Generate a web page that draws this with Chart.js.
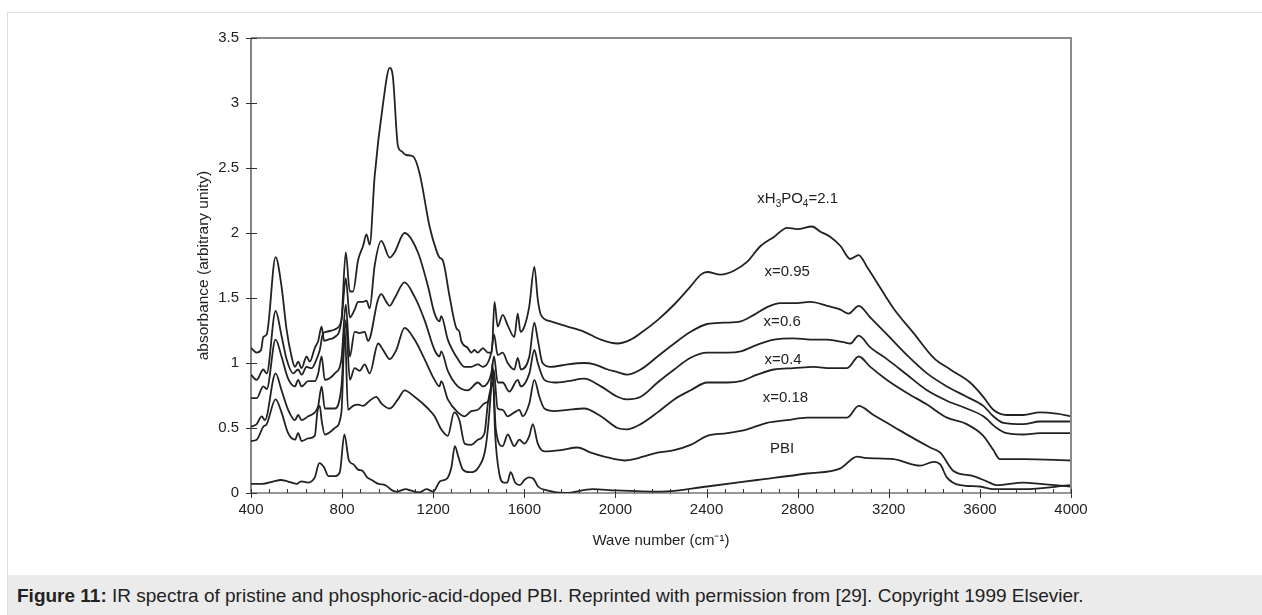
<!DOCTYPE html>
<html>
<head>
<meta charset="utf-8">
<script src="https://cdn.jsdelivr.net/npm/chart.js@4.4.1/dist/chart.umd.min.js"></script>
<style>
  body { margin: 0; background: #fff; font-family: Arial, "Liberation Sans", sans-serif; }
  #frame { position: absolute; left: 7px; top: 12px; width: 1262px; height: 610px; border-top: 1px solid #ddd; border-left: 1px solid #ddd; }
  #chart { position: absolute; left: 0; top: 0; }
  #caption { position: absolute; left: 8px; top: 575px; width: 1254px; height: 40px; background: #ebebeb;
             font-size: 19px; color: #222; line-height: 42px; padding-left: 9px; box-sizing: border-box; white-space: nowrap; }
</style>
</head>
<body>
<div id="frame"></div>
<canvas id="chart" width="1262" height="570"></canvas>
<div id="caption"><b>Figure 11:</b> IR spectra of pristine and phosphoric-acid-doped PBI. Reprinted with permission from [29]. Copyright 1999 Elsevier.</div>
<script>
// ── Data ────────────────────────────────────────────────────
const wn21 = [400,425,444,454,469,508,534,556,578,593,607,622,644,658,680,695,710,721,739,768,797,816,834,848,870,892,907,921,943,980,1009,1023,1045,1060,1082,1111,1140,1184,1213,1228,1242,1272,1301,1315,1323,1352,1367,1381,1396,1418,1440,1457,1469,1483,1505,1527,1556,1571,1583,1600,1622,1644,1659,1673,1717,1790,1863,1936,2009,2067,2111,2185,2258,2330,2375,2403,2462,2520,2579,2637,2696,2754,2798,2863,2900,2944,2988,3031,3068,3104,3148,3221,3309,3397,3470,3557,3615,3659,3717,3790,3864,3937,4000];
const ab21 = [1.115,1.08,1.10,1.20,1.22,1.815,1.59,1.26,1.05,0.97,1.01,0.96,1.05,1.01,1.115,1.17,1.28,1.17,1.18,1.20,1.33,1.85,1.55,1.55,1.79,1.90,1.99,1.91,2.44,3.0,3.27,3.2,2.67,2.63,2.60,2.59,2.46,2.05,1.87,1.81,1.79,1.51,1.27,1.24,1.17,1.115,1.08,1.10,1.08,1.115,1.08,1.08,1.47,1.28,1.37,1.29,1.20,1.38,1.24,1.28,1.44,1.74,1.49,1.37,1.32,1.28,1.24,1.18,1.15,1.18,1.23,1.33,1.45,1.59,1.68,1.70,1.68,1.71,1.78,1.90,1.97,2.04,2.03,2.05,2.01,1.97,1.90,1.80,1.83,1.74,1.62,1.42,1.23,1.04,0.95,0.85,0.74,0.64,0.60,0.60,0.62,0.61,0.59];

const wn095 = [400,425,454,469,508,534,556,585,607,622,644,666,688,702,715,730,770,797,816,834,855,870,892,907,921,943,972,1009,1030,1074,1133,1177,1206,1228,1235,1264,1308,1338,1367,1396,1418,1455,1467,1483,1505,1527,1556,1571,1585,1622,1644,1659,1680,1717,1790,1863,1907,1966,2009,2050,2111,2185,2258,2330,2403,2476,2550,2608,2666,2725,2783,2856,2929,2988,3024,3068,3119,3192,3280,3368,3455,3542,3615,3659,3703,3790,3864,4000];
const ab095 = [0.91,0.87,0.95,0.92,1.40,1.21,1.03,0.92,0.95,0.91,0.97,0.96,1.03,1.10,1.22,1.24,1.26,1.33,1.65,1.35,1.41,1.47,1.47,1.48,1.42,1.75,1.94,1.81,1.85,2.0,1.85,1.59,1.38,1.32,1.36,1.18,1.03,0.97,0.97,0.99,0.97,1.08,1.22,1.06,1.08,1.0,0.95,1.04,0.95,1.05,1.31,1.18,1.0,0.97,0.99,1.0,0.99,0.95,0.93,0.91,0.95,1.05,1.15,1.24,1.30,1.31,1.32,1.37,1.43,1.46,1.46,1.47,1.44,1.41,1.38,1.44,1.35,1.22,1.06,0.92,0.82,0.74,0.67,0.59,0.54,0.53,0.55,0.55];

const wn06 = [400,425,454,469,508,534,563,593,607,622,651,680,695,710,724,768,797,816,834,855,877,899,914,958,972,994,1009,1031,1074,1118,1162,1206,1228,1235,1264,1308,1352,1396,1418,1455,1467,1483,1505,1534,1571,1585,1622,1644,1659,1688,1732,1790,1863,1936,2009,2050,2111,2185,2258,2330,2403,2491,2550,2622,2696,2783,2856,2929,3002,3031,3068,3119,3192,3280,3368,3455,3542,3615,3674,3717,3790,3864,4000];
const ab06 = [0.73,0.73,0.82,0.80,1.18,1.05,0.88,0.82,0.87,0.82,0.86,0.86,0.92,1.05,0.87,0.92,1.03,1.45,1.05,1.24,1.23,1.24,1.17,1.49,1.53,1.47,1.44,1.50,1.62,1.51,1.33,1.10,1.05,1.09,0.94,0.82,0.79,0.85,0.82,0.92,1.05,0.85,0.85,0.78,0.87,0.82,0.92,1.10,1.0,0.87,0.85,0.86,0.88,0.82,0.74,0.72,0.74,0.85,0.95,1.04,1.08,1.08,1.09,1.14,1.18,1.19,1.18,1.18,1.16,1.15,1.21,1.12,1.03,0.91,0.79,0.71,0.65,0.59,0.50,0.46,0.45,0.46,0.46];

const wn04 = [400,425,447,461,508,534,563,593,607,622,651,680,695,710,724,768,797,816,834,855,877,899,921,958,980,1009,1038,1074,1118,1162,1206,1228,1235,1264,1308,1338,1367,1396,1425,1447,1465,1483,1505,1527,1556,1578,1593,1622,1644,1666,1688,1732,1790,1863,1936,2009,2050,2111,2185,2258,2330,2403,2491,2550,2622,2696,2783,2871,2944,3017,3068,3119,3192,3280,3368,3455,3542,3615,3659,3688,3790,4000];
const ab04 = [0.51,0.53,0.59,0.56,0.92,0.79,0.64,0.56,0.60,0.56,0.59,0.62,0.67,0.82,0.65,0.65,0.82,1.33,0.87,0.96,0.94,0.99,0.92,1.15,1.10,1.03,1.10,1.27,1.18,1.03,0.87,0.82,0.86,0.72,0.62,0.59,0.63,0.64,0.69,0.72,0.95,0.65,0.64,0.59,0.62,0.64,0.59,0.69,0.87,0.74,0.65,0.63,0.64,0.65,0.59,0.50,0.49,0.53,0.62,0.72,0.79,0.85,0.85,0.86,0.91,0.95,0.96,0.97,0.96,0.96,1.05,0.97,0.87,0.77,0.68,0.58,0.53,0.44,0.33,0.26,0.26,0.25];

const wn018 = [400,425,454,469,508,534,563,593,607,622,651,680,692,702,710,724,768,797,812,826,848,870,892,921,950,972,1009,1045,1074,1118,1177,1206,1235,1264,1292,1315,1338,1367,1396,1425,1440,1452,1462,1475,1505,1527,1556,1578,1600,1622,1637,1659,1688,1761,1834,1892,1951,2040,2082,2140,2185,2258,2330,2403,2491,2579,2666,2754,2842,2929,3017,3068,3133,3221,3309,3382,3426,3484,3571,3630,3674,3790,3864,4000];
const ab018 = [0.40,0.41,0.51,0.53,0.72,0.62,0.46,0.41,0.46,0.40,0.42,0.44,0.63,0.67,0.56,0.45,0.50,0.62,1.25,0.64,0.67,0.68,0.67,0.71,0.74,0.69,0.65,0.72,0.79,0.74,0.65,0.59,0.49,0.44,0.62,0.56,0.38,0.37,0.41,0.46,0.69,0.80,0.85,0.49,0.36,0.45,0.36,0.41,0.38,0.44,0.53,0.38,0.32,0.33,0.35,0.31,0.28,0.25,0.26,0.29,0.31,0.33,0.37,0.44,0.46,0.49,0.54,0.56,0.58,0.58,0.58,0.67,0.60,0.51,0.42,0.35,0.31,0.17,0.13,0.09,0.06,0.08,0.07,0.05];

const wnPBI = [400,450,500,530,560,600,620,650,680,700,720,740,770,790,810,830,850,870,890,910,930,960,990,1020,1040,1080,1100,1140,1170,1200,1230,1260,1280,1295,1310,1330,1360,1400,1430,1450,1460,1472,1490,1510,1525,1540,1560,1580,1600,1620,1640,1660,1700,1780,1900,2000,2200,2403,2622,2841,2988,3061,3100,3221,3338,3397,3426,3455,3513,3600,3659,3790,4000];
const abPBI = [0.07,0.07,0.09,0.10,0.09,0.07,0.09,0.08,0.12,0.23,0.20,0.13,0.13,0.16,0.45,0.25,0.22,0.18,0.17,0.12,0.10,0.07,0.06,0.02,0.01,0.03,0.02,0.005,0.03,0.01,0.09,0.11,0.20,0.36,0.28,0.18,0.16,0.20,0.35,0.70,1.0,0.45,0.15,0.08,0.08,0.16,0.08,0.06,0.10,0.12,0.11,0.05,0.02,0.0,0.03,0.02,0.01,0.05,0.10,0.15,0.19,0.28,0.27,0.26,0.21,0.24,0.22,0.12,0.06,0.05,0.03,0.03,0.06];

const seriesNames = ['xH3PO4=2.1', 'x=0.95', 'x=0.6', 'x=0.4', 'x=0.18', 'PBI'];
const seriesWn = [wn21, wn095, wn06, wn04, wn018, wnPBI];
const seriesAbs = [ab21, ab095, ab06, ab04, ab018, abPBI];

// where each curve's annotation sits (wave number, absorbance)
const labelWn = [2800, 2754, 2732, 2736, 2746, 2732];
const labelAbs = [2.26, 1.70, 1.315, 1.025, 0.735, 0.34];

const xTicks = { min: 400, max: 4000, minor: 80, major: 400 };
const yTicks = { min: 0, max: 3.5, step: 0.5 };

const INK = '#222';
const FONT = 'Arial, "Liberation Sans", sans-serif';

// ── Plugins ─────────────────────────────────────────────────
const frameAndTicks = {
  id: 'frameAndTicks',
  afterDatasetsDraw(chart) {
    const { ctx, chartArea: a, scales: { x, y } } = chart;
    ctx.save();
    // top + right frame (grey)
    ctx.strokeStyle = '#8a8a8a';
    ctx.lineWidth = 2;
    ctx.beginPath();
    ctx.moveTo(a.left, a.top);
    ctx.lineTo(a.right, a.top);
    ctx.lineTo(a.right, a.bottom);
    ctx.stroke();
    // left + bottom axis
    ctx.strokeStyle = '#333';
    ctx.lineWidth = 1.2;
    ctx.beginPath();
    ctx.moveTo(a.left, a.top);
    ctx.lineTo(a.left, a.bottom);
    ctx.lineTo(a.right, a.bottom);
    ctx.stroke();
    // x ticks: minor inside, major crossing
    ctx.lineWidth = 1;
    ctx.beginPath();
    for (let v = xTicks.min; v <= xTicks.max; v += xTicks.minor) {
      const px = Math.round(x.getPixelForValue(v)) + 0.5;
      const major = v % xTicks.major === 0;
      ctx.moveTo(px, a.bottom - 4);
      ctx.lineTo(px, a.bottom + (major ? 5 : 0));
    }
    // y ticks
    for (let v = yTicks.min; v <= yTicks.max + 1e-9; v += yTicks.step) {
      const py = Math.round(y.getPixelForValue(v)) + 0.5;
      ctx.moveTo(a.left - 5, py);
      ctx.lineTo(a.left + 6, py);
    }
    ctx.stroke();
    ctx.restore();
  },
};

const curveLabels = {
  id: 'curveLabels',
  afterDatasetsDraw(chart) {
    const { ctx, scales: { x, y } } = chart;
    ctx.save();
    ctx.fillStyle = INK;
    ctx.textBaseline = 'middle';
    seriesNames.forEach((name, i) => {
      const cx = x.getPixelForValue(labelWn[i]);
      const cy = y.getPixelForValue(labelAbs[i]);
      // first label has subscripts: xH3PO4
      const parts = i === 0
        ? [['xH', 0], ['3', 1], ['PO', 0], ['4', 1], ['=2.1', 0]]
        : [[name, 0]];
      const big = `15px ${FONT}`, small = `10px ${FONT}`;
      let w = 0;
      for (const [t, sub] of parts) { ctx.font = sub ? small : big; w += ctx.measureText(t).width; }
      let px = cx - w / 2;
      for (const [t, sub] of parts) {
        ctx.font = sub ? small : big;
        ctx.fillText(t, px, sub ? cy + 5 : cy);
        px += ctx.measureText(t).width;
      }
    });
    ctx.restore();
  },
};

// ── Chart ───────────────────────────────────────────────────
const datasets = seriesNames.map((name, i) => ({
  label: name,
  data: seriesWn[i].map((w, j) => ({ x: w, y: seriesAbs[i][j] })),
  borderColor: INK,
  borderWidth: 1.8,
  pointRadius: 0,
  cubicInterpolationMode: 'monotone',
  fill: false,
}));

new Chart(document.getElementById('chart'), {
  type: 'line',
  data: { datasets },
  plugins: [frameAndTicks, curveLabels],
  options: {
    responsive: false,
    animation: false,
    devicePixelRatio: 1,
    layout: { padding: { left: 190, right: 191, top: 38, bottom: 17 } },
    plugins: { legend: { display: false }, tooltip: { enabled: false } },
    scales: {
      x: {
        type: 'linear',
        min: xTicks.min,
        max: xTicks.max,
        afterFit: s => { s.height = 60; },
        grid: { display: false, drawTicks: false },
        border: { display: false },
        ticks: {
          stepSize: xTicks.minor,
          autoSkip: false,
          maxRotation: 0,
          padding: 8,
          color: INK,
          font: { family: FONT, size: 15 },
          callback: v => (v % xTicks.major === 0 ? String(v) : ''),
        },
        title: {
          display: true,
          text: 'Wave number (cm⁻¹)',
          color: INK,
          font: { family: FONT, size: 15 },
          padding: { top: 0, bottom: 3 },
        },
      },
      y: {
        min: yTicks.min,
        max: yTicks.max,
        afterFit: s => { s.width = 61; },
        grid: { display: false, drawTicks: false },
        border: { display: false },
        ticks: {
          stepSize: yTicks.step,
          padding: 12,
          color: INK,
          font: { family: FONT, size: 15 },
          callback: v => String(v),
        },
        title: {
          display: true,
          text: 'absorbance (arbitrary unity)',
          color: INK,
          font: { family: FONT, size: 15.5 },
          padding: { top: 4, bottom: 0 },
        },
      },
    },
  },
});
</script>
</body>
</html>
